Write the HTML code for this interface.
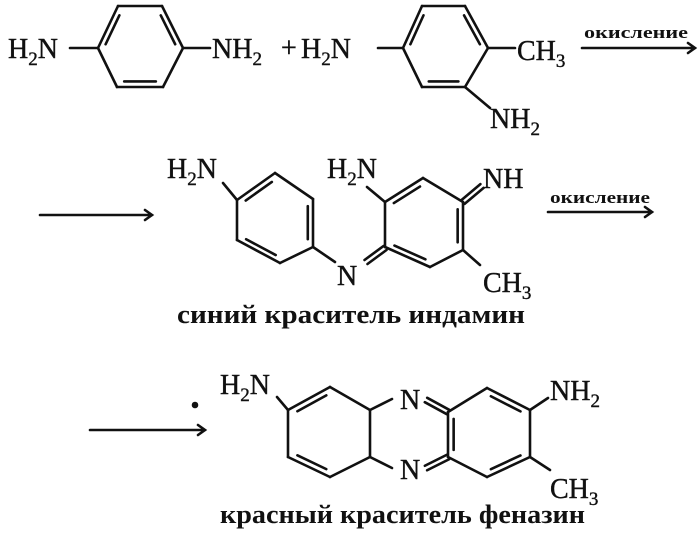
<!DOCTYPE html>
<html><head><meta charset="utf-8"><style>
html,body{margin:0;padding:0;background:#fff;width:700px;height:550px;overflow:hidden}
svg{display:block}
text{font-family:"Liberation Serif",serif;fill:#111}
.a{font-size:28px;stroke:#111;stroke-width:0.4}
.c{font-size:26px;font-weight:bold}
.o{font-size:17px;font-weight:bold}
</style></head><body>
<svg id="s" width="700" height="550" viewBox="0 0 700 550" stroke="#111" stroke-width="2.6" fill="none" stroke-linecap="round">
<g>
<text class="a" x="8" y="58">H<tspan font-size="19" dy="7">2</tspan><tspan dy="-7">N</tspan></text>
<text class="a" x="212" y="58">NH<tspan font-size="19" dy="7">2</tspan></text>
<text class="a" x="281" y="57">+</text>
<text class="a" x="301" y="58">H<tspan font-size="19" dy="7">2</tspan><tspan dy="-7">N</tspan></text>
<text class="a" x="517" y="60">CH<tspan font-size="19" dy="7">3</tspan></text>
<text class="a" x="490" y="128">NH<tspan font-size="19" dy="7">2</tspan></text>
<text class="o" x="584" y="38" textLength="104" lengthAdjust="spacingAndGlyphs" stroke="none">окисление</text>

<text class="a" x="167" y="178">H<tspan font-size="19" dy="7">2</tspan><tspan dy="-7">N</tspan></text>
<text class="a" x="327" y="178">H<tspan font-size="19" dy="7">2</tspan><tspan dy="-7">N</tspan></text>
<text class="a" x="483" y="188">NH</text>
<text class="a" x="337" y="285">N</text>
<text class="a" x="483" y="292">CH<tspan font-size="19" dy="7">3</tspan></text>
<text class="c" x="177" y="323" textLength="348" lengthAdjust="spacingAndGlyphs" stroke="none">синий краситель индамин</text>
<text class="o" x="550" y="203" textLength="100" lengthAdjust="spacingAndGlyphs" stroke="none">окисление</text>

<text class="a" x="220" y="394">H<tspan font-size="19" dy="7">2</tspan><tspan dy="-7">N</tspan></text>
<text class="a" x="400" y="409">N</text>
<text class="a" x="400" y="479">N</text>
<text class="a" x="550" y="400">NH<tspan font-size="19" dy="7">2</tspan></text>
<text class="a" x="550" y="498">CH<tspan font-size="19" dy="7">3</tspan></text>
<text class="c" x="220" y="523" textLength="365" lengthAdjust="spacingAndGlyphs" stroke="none">красный краситель феназин</text>
<circle cx="195" cy="405" r="2" fill="#111"/>
</g>
<path d="M582 48H695M688 43L695 48L688 53"/>
<path d="M548 212H652M645 207L652 212L645 217"/>
<path d="M40 215H152M145 210L152 215L145 220"/>
<path d="M90 430H205M198 425L205 430L198 435"/>
<path d="M70 48H98M183 48H210M378 48H403M488 48H515M465 87L490 108"/>
<path d="M223 183L237 200M313 247L335 262M367 187L385 202M463 250L480 265"/>
<path d="M277 397L288 410M370 410L392 399M370 457L392 468M530 410L548 398M530 457L550 470"/>
<g id="g"></g>
</svg>
<script>
var g=document.getElementById('g');
function L(a,b){var l=document.createElementNS('http://www.w3.org/2000/svg','line');l.setAttribute('x1',a[0]);l.setAttribute('y1',a[1]);l.setAttribute('x2',b[0]);l.setAttribute('y2',b[1]);g.appendChild(l);}
function ring(p,dbl){var cx=0,cy=0;p.forEach(function(v){cx+=v[0];cy+=v[1]});cx/=p.length;cy/=p.length;
for(var i=0;i<p.length;i++){var a=p[i],b=p[(i+1)%p.length];L(a,b);
if(dbl.indexOf(i)>=0){var f=0.14;var a2=[a[0]+(cx-a[0])*f,a[1]+(cy-a[1])*f],b2=[b[0]+(cx-b[0])*f,b[1]+(cy-b[1])*f];
var m=0.1;L([a2[0]+(b2[0]-a2[0])*m,a2[1]+(b2[1]-a2[1])*m],[b2[0]+(a2[0]-b2[0])*m,b2[1]+(a2[1]-b2[1])*m]);}}}
function dbl(a,b){var dx=b[0]-a[0],dy=b[1]-a[1],l=Math.hypot(dx,dy),nx=-dy/l*2.5,ny=dx/l*2.5;
L([a[0]+nx,a[1]+ny],[b[0]+nx,b[1]+ny]);L([a[0]-nx,a[1]-ny],[b[0]-nx,b[1]-ny]);}
ring([[118,6],[162,6],[183,48],[163,87],[117,87],[98,48]],[1,3,5]);
ring([[422,6],[465,6],[488,48],[465,87],[422,87],[403,48]],[1,3,5]);
ring([[275,173],[313,199],[313,247],[280,263],[237,240],[237,200]],[1,3,5]);
ring([[423,178],[463,202],[463,250],[430,267],[385,247],[385,202]],[1,3,5]);
dbl([366,262],[385,248]);dbl([463,202],[482,186]);
ring([[330,387],[370,410],[370,457],[330,477],[288,457],[288,410]],[3,5]);
ring([[487,388],[530,410],[530,457],[487,477],[448,457],[448,412]],[0,2,4]);
dbl([426,400],[448,412]);dbl([426,468],[448,457]);
</script>
</body></html>
